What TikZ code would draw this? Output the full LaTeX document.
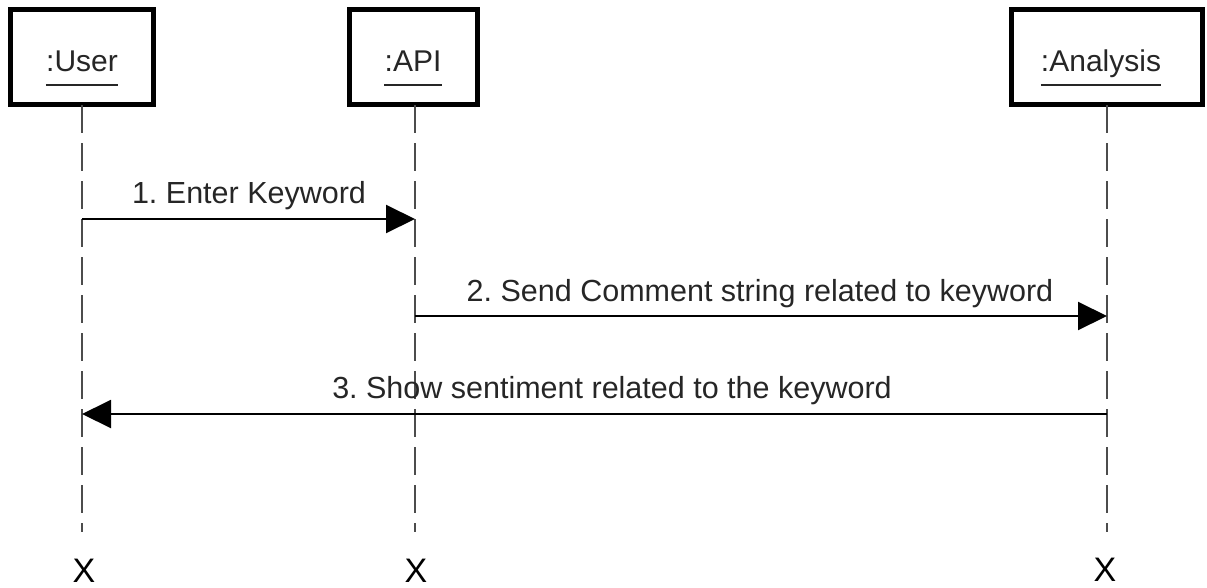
\documentclass[tikz,border=0pt]{standalone}
\usepackage{fontspec}
\setmainfont{Liberation Sans}
\usetikzlibrary{arrows.meta}
\frenchspacing
\definecolor{ink}{rgb}{0.15,0.15,0.15}
\definecolor{lifegray}{rgb}{0.3,0.3,0.3}
\tikzset{
  objbox/.style={draw=black, line width=5pt, fill=white, minimum height=95pt, inner sep=0pt},
  objlabel/.style={text=ink, font=\fontsize{30}{36}\selectfont, inner sep=0pt, anchor=base},
  lifeline/.style={draw=lifegray, line width=2pt, dash pattern=on 28pt off 10pt},
  msg/.style={draw=black, line width=2pt, -{Triangle[length=29pt,width=28pt]}},
  msglabel/.style={text=ink, font=\fontsize{30.5}{36}\selectfont, inner sep=0pt, anchor=base},
  endmark/.style={text=black, font=\fontsize{34}{40}\selectfont, inner sep=0pt, anchor=base}
}
\begin{document}
\begin{tikzpicture}[x=1pt, y=-1pt]
\useasboundingbox (0,0) rectangle (1207,587);
% object boxes
\node[objbox, minimum width=143pt] (user) at (82,57) {};
\node[objbox, minimum width=128pt] (api) at (413,57) {};
\node[objbox, minimum width=191pt] (ana) at (1107,57) {};
% object names with underline
\node[objlabel] (userlbl) at (82,71) {:User};
\node[objlabel] (apilbl) at (413,71) {:API};
\node[objlabel] (analbl) at (1101,71) {:Analysis};
\draw[line width=1.5pt, draw=ink] ([yshift=-14pt]userlbl.base west) -- ([yshift=-14pt]userlbl.base east);
\draw[line width=1.5pt, draw=ink] ([yshift=-14pt]apilbl.base west) -- ([yshift=-14pt]apilbl.base east);
\draw[line width=1.5pt, draw=ink] ([yshift=-14pt]analbl.base west) -- ([yshift=-14pt]analbl.base east);
% lifeline ends
\coordinate (userend) at (82,532);
\coordinate (apiend) at (415,532);
\coordinate (anaend) at (1107,532);
\coordinate (usertop) at (82,105);
\coordinate (apitop) at (415,105);
\coordinate (anatop) at (1107,105);
\draw[lifeline] (usertop) -- (userend);
\draw[lifeline] (apitop) -- (apiend);
\draw[lifeline] (anatop) -- (anaend);
% messages
\coordinate (u1) at (82,219);
\coordinate (a1) at (415,219);
\coordinate (a2) at (415,316);
\coordinate (n2) at (1107,316);
\coordinate (n3) at (1107,414);
\coordinate (u3) at (82,414);
\draw[msg] (u1) -- (a1);
\draw[msg] (a2) -- (n2);
\draw[msg] (n3) -- (u3);
\node[msglabel] (m1) at (249,203) {1. Enter Keyword};
\node[msglabel] (m2) at (760,301) {2. Send Comment string related to keyword};
\node[msglabel] (m3) at (612,398) {3. Show sentiment related to the keyword};
% destruction marks
\node[endmark] (userx) at (84,582) {X};
\node[endmark] (apix) at (416,582) {X};
\node[endmark] (anax) at (1105,581) {X};
\end{tikzpicture}
\end{document}
